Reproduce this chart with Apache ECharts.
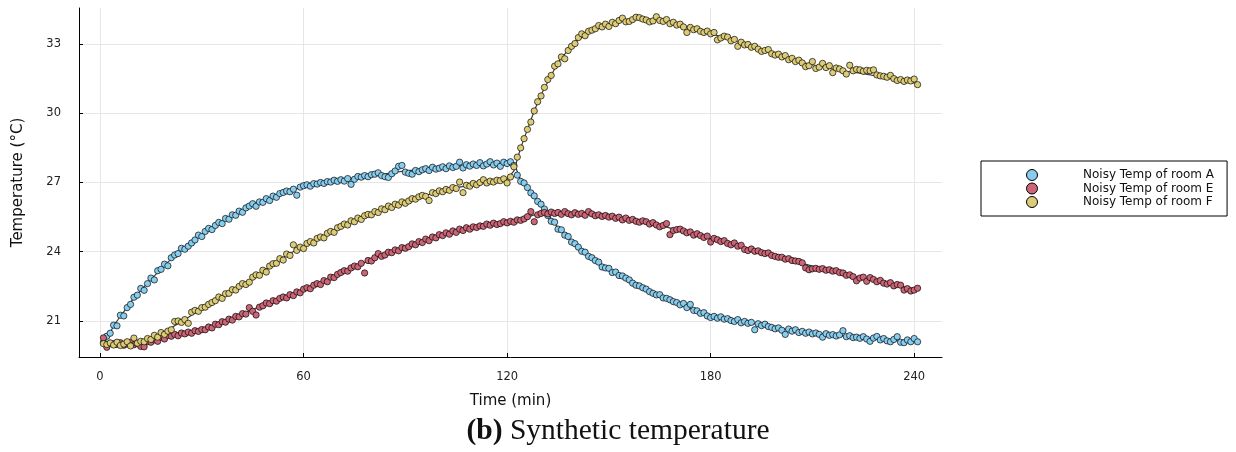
<!DOCTYPE html>
<html>
<head>
<meta charset="utf-8">
<script src="https://cdn.jsdelivr.net/npm/echarts@6/dist/echarts.min.js"></script>
<style>
  html, body { margin: 0; padding: 0; background: #fff; }
  #chart { width: 1236px; height: 452px; }
</style>
</head>
<body>
<div id="chart"></div>
<script>
// sampled once per minute, t = 1 .. 241
const minutes = [];
for (let t = 1; t <= 241; t++) minutes.push(t);

const tempA = [
  20.08, 20.34, 20.47, 20.82, 20.79, 21.25, 21.22, 21.58, 21.72, 22.03,
  22.12, 22.41, 22.33, 22.62, 22.86, 22.78, 23.18, 23.24, 23.46, 23.39,
  23.74, 23.86, 23.92, 24.15, 24.11, 24.24, 24.38, 24.51, 24.72, 24.66,
  24.88, 25.01, 24.96, 25.14, 25.27, 25.22, 25.44, 25.41, 25.6, 25.58,
  25.76, 25.71, 25.9, 25.98, 26.08, 25.97, 26.16, 26.14, 26.3, 26.22,
  26.41, 26.36, 26.52, 26.57, 26.63, 26.6, 26.71, 26.45, 26.8, 26.86,
  26.9, 26.84, 26.95, 26.93, 27.0, 26.96, 27.04, 27.02, 27.1, 27.05,
  27.12, 27.06, 27.17, 26.92, 27.14, 27.26, 27.23, 27.3, 27.25, 27.34,
  27.36, 27.42, 27.3, 27.25, 27.22, 27.38, 27.5, 27.7, 27.74, 27.45,
  27.4, 27.36, 27.52, 27.47, 27.55, 27.6, 27.52, 27.66, 27.58, 27.62,
  27.68, 27.6, 27.72, 27.65, 27.7, 27.88, 27.63, 27.77, 27.71, 27.8,
  27.74, 27.86, 27.72, 27.8, 27.9, 27.76, 27.84, 27.7, 27.88, 27.82,
  27.9, 27.74, 27.32, 27.05, 26.98, 26.78, 26.55, 26.42, 26.18, 26.06,
  25.85, 25.57, 25.32, 25.28, 24.98, 24.95, 24.72, 24.66, 24.42, 24.35,
  24.2, 24.02, 23.98, 23.8, 23.74, 23.62, 23.55, 23.34, 23.3, 23.28,
  23.1, 23.12, 22.97, 22.95, 22.86, 22.78, 22.64, 22.55, 22.52, 22.44,
  22.38, 22.27, 22.2, 22.13, 22.14, 22.0, 21.98, 21.92, 21.84, 21.8,
  21.7, 21.76, 21.58, 21.72, 21.46, 21.44, 21.33, 21.36, 21.22, 21.15,
  21.2, 21.12, 21.18, 21.08, 21.1, 21.02, 20.98, 21.06, 20.92, 20.98,
  20.9, 20.94, 20.62, 20.88, 20.8, 20.86, 20.76, 20.72, 20.66, 20.7,
  20.6, 20.42, 20.65, 20.56, 20.62, 20.5, 20.55, 20.47, 20.52, 20.44,
  20.48, 20.42, 20.3, 20.45, 20.38, 20.41, 20.35, 20.4, 20.58, 20.32,
  20.36, 20.28, 20.3, 20.25, 20.32, 20.22, 20.12, 20.26, 20.33, 20.18,
  20.24, 20.14, 20.1, 20.2, 20.32, 20.08, 20.06, 20.18, 20.1, 20.24, 20.1
];

const tempE = [
  20.27, 19.86, 20.04, 20.02, 19.98, 20.06, 19.95, 20.0, 20.08, 19.97,
  20.02, 19.9, 19.88, 20.1, 20.08, 20.18, 20.12, 20.3, 20.22, 20.38,
  20.34, 20.42, 20.36, 20.48, 20.44, 20.52, 20.47, 20.58, 20.55, 20.63,
  20.62, 20.74, 20.7, 20.86, 20.84, 20.97, 20.95, 21.08, 21.04, 21.2,
  21.18, 21.32, 21.3, 21.58, 21.42, 21.26, 21.6, 21.66, 21.78, 21.75,
  21.88, 21.86, 21.98, 22.04, 22.0, 22.14, 22.1, 22.26, 22.22, 22.38,
  22.44, 22.4, 22.55, 22.62, 22.58, 22.75, 22.7, 22.9, 22.88, 23.02,
  23.1, 23.18, 23.16, 23.3, 23.38, 23.35, 23.5, 23.08, 23.62, 23.6,
  23.74, 23.92, 23.8, 23.86, 23.98, 23.96, 24.08, 24.04, 24.18, 24.15,
  24.22, 24.34, 24.3, 24.44, 24.4, 24.55, 24.48, 24.64, 24.6, 24.74,
  24.7, 24.82, 24.76, 24.9, 24.84, 24.98, 24.92, 25.04, 24.98, 25.08,
  25.05, 25.12, 25.1, 25.2, 25.15, 25.24, 25.18, 25.22, 25.3, 25.25,
  25.32, 25.28, 25.38, 25.36, 25.42, 25.52, 25.74, 25.3, 25.6, 25.66,
  25.7, 25.64, 25.72, 25.66, 25.7, 25.62, 25.74, 25.65, 25.6, 25.69,
  25.62, 25.66, 25.58, 25.74, 25.64, 25.56, 25.6, 25.53, 25.57, 25.5,
  25.54, 25.45, 25.5, 25.38, 25.46, 25.36, 25.4, 25.32, 25.28, 25.34,
  25.3, 25.2, 25.26, 25.16, 25.08, 25.14, 25.22, 24.74, 24.92, 24.96,
  24.98, 24.9, 24.82, 24.86, 24.72, 24.78, 24.7, 24.62, 24.68, 24.42,
  24.58, 24.52, 24.44, 24.48, 24.36, 24.3, 24.38, 24.24, 24.28, 24.1,
  24.05, 24.12, 24.02, 24.04, 23.96, 23.92, 23.95, 23.84, 23.8, 23.76,
  23.76, 23.68, 23.7, 23.62, 23.6, 23.58, 23.52, 23.3, 23.22, 23.26,
  23.28, 23.24, 23.27, 23.2, 23.22, 23.16, 23.18, 23.1, 23.08, 22.98,
  23.0, 22.92, 22.74, 22.86, 22.9, 22.72, 22.88, 22.8, 22.7, 22.76,
  22.64, 22.6, 22.66, 22.52, 22.58, 22.55, 22.34, 22.4, 22.3, 22.34, 22.42
];

const tempF = [
  20.02, 19.98, 20.05, 19.96, 20.08, 19.94, 20.0, 20.1, 19.92, 20.26,
  20.04, 20.12, 20.1, 20.24, 20.2, 20.38, 20.3, 20.5, 20.42, 20.56,
  20.62, 20.98, 21.0, 20.94, 21.06, 20.9, 21.38, 21.46, 21.42, 21.58,
  21.6, 21.72, 21.8, 21.88, 22.04, 21.98, 22.18, 22.2, 22.36, 22.34,
  22.5, 22.62, 22.58, 22.68, 22.9, 23.0, 22.98, 23.2, 23.12, 23.38,
  23.48, 23.5, 23.7, 23.64, 23.9, 23.84, 24.3, 24.06, 24.2, 24.14,
  24.36, 24.44, 24.38, 24.58, 24.64, 24.6, 24.8, 24.88, 24.84, 25.04,
  25.1, 25.2, 25.16, 25.34, 25.3, 25.46, 25.4, 25.56, 25.62, 25.6,
  25.74, 25.7, 25.86, 25.82, 25.98, 25.92, 26.06, 26.02, 26.16, 26.1,
  26.2, 26.3, 26.28, 26.38, 26.44, 26.4, 26.22, 26.56, 26.52, 26.64,
  26.6, 26.7, 26.66, 26.78, 26.74, 27.02, 26.56, 26.88, 26.84, 26.96,
  26.9, 27.0, 27.12, 26.98, 27.06, 27.02, 27.1, 27.08, 27.16, 26.98,
  27.24, 27.68, 28.1, 28.5, 28.9, 29.3, 29.62, 30.1, 30.5, 30.75,
  31.12, 31.46, 31.64, 32.04, 32.14, 32.44, 32.36, 32.72, 32.9, 33.02,
  33.28, 33.44, 33.36, 33.55, 33.6, 33.66, 33.8, 33.74, 33.86, 33.76,
  33.94, 33.88, 34.02, 34.12, 33.96, 33.98, 34.06, 34.16, 34.14, 34.08,
  34.04, 33.96, 34.0, 34.18, 34.02, 33.98, 34.06, 33.88, 33.94, 33.82,
  33.86, 33.74, 33.5, 33.72, 33.62, 33.66, 33.55, 33.5, 33.56, 33.44,
  33.5, 33.18, 33.26, 33.34, 33.3, 33.14, 33.2, 32.9, 33.08, 32.96,
  32.98, 32.86, 32.9, 32.78, 32.68, 32.72, 32.76, 32.58, 32.52, 32.56,
  32.44, 32.5, 32.32, 32.38, 32.24, 32.3, 32.18, 32.02, 32.06, 32.24,
  31.94, 32.0, 32.16, 31.98, 32.06, 31.76, 31.96, 31.92, 31.84, 31.7,
  32.08, 31.84, 31.9, 31.88, 31.82, 31.86, 31.84, 31.88, 31.66, 31.62,
  31.6, 31.56, 31.64, 31.5, 31.42, 31.46, 31.38, 31.44, 31.4, 31.48, 31.24
];

// underlying (noise-free) temperature, read at coarser steps
const trueTimes = [1, 5, 10, 15, 20, 25, 30, 35, 40, 45, 50, 55, 60, 65, 70, 75, 80, 85, 90, 95, 100, 105, 110, 115, 120,
  122, 124, 126, 128, 130, 135, 140, 145, 150, 155, 160, 165, 170, 175, 180, 185, 190, 195, 200, 205, 210, 215, 220, 225, 230, 235, 241];
const trueA = [20.05, 21.0, 22.0, 22.8, 23.55, 24.2, 24.75, 25.2, 25.65, 26.0, 26.32, 26.6, 26.82, 26.97, 27.08, 27.2, 27.3, 27.4, 27.5, 27.57, 27.63, 27.7, 27.76, 27.8, 27.84,
  27.85, 27.1, 26.75, 26.4, 26.0, 25.05, 24.3, 23.7, 23.25, 22.82, 22.42, 22.08, 21.78, 21.48, 21.2, 21.07, 20.95, 20.83, 20.68, 20.57, 20.48, 20.4, 20.33, 20.27, 20.2, 20.15, 20.1];
const trueE = [20.1, 20.0, 19.97, 20.05, 20.32, 20.45, 20.6, 20.87, 21.15, 21.5, 21.8, 22.05, 22.35, 22.65, 23.0, 23.35, 23.65, 23.95, 24.2, 24.45, 24.7, 24.9, 25.05, 25.18, 25.28,
  25.33, 25.4, 25.5, 25.6, 25.65, 25.68, 25.66, 25.6, 25.52, 25.42, 25.3, 25.15, 24.95, 24.76, 24.58, 24.38, 24.18, 23.98, 23.78, 23.58, 23.38, 23.2, 23.02, 22.85, 22.7, 22.53, 22.38];
const trueF = [20.0, 20.0, 20.05, 20.26, 20.62, 21.05, 21.55, 22.0, 22.4, 22.85, 23.35, 23.85, 24.25, 24.6, 25.0, 25.35, 25.65, 25.93, 26.17, 26.4, 26.6, 26.77, 26.92, 27.04, 27.14,
  27.5, 28.5, 29.3, 30.1, 30.8, 32.2, 33.1, 33.54, 33.85, 34.03, 34.1, 34.04, 33.85, 33.65, 33.45, 33.24, 32.99, 32.74, 32.5, 32.28, 32.1, 31.94, 31.82, 31.72, 31.58, 31.45, 31.28];

const xTicks = [0, 60, 120, 180, 240];
const yTicks = [21, 24, 27, 30, 33];
const seriesNames = ['Noisy Temp of room A', 'Noisy Temp of room E', 'Noisy Temp of room F'];
const colors = ['#88CCEE', '#CC6677', '#DDCC77'];

const chart = echarts.init(document.getElementById('chart'), null, { renderer: 'canvas' });

const pair = (xs, ys) => ys.map((v, i) => [xs[i], v]);

const trueLine = (ys) => ({
  type: 'line',
  data: pair(trueTimes, ys),
  showSymbol: false,
  silent: true,
  z: 1,
  lineStyle: { color: '#3a3a3a', width: 1.2 },
  emphasis: { disabled: true }
});

const noisy = (name, ys, color) => ({
  name,
  type: 'scatter',
  data: pair(minutes, ys),
  symbol: 'circle',
  symbolSize: 6.3,
  z: 2,
  itemStyle: { color, borderColor: 'rgba(0,0,0,0.85)', borderWidth: 0.8, opacity: 1 }
});

const axisFont = { fontFamily: 'DejaVu Sans', fontSize: 11.5, color: '#222' };

chart.setOption({
  animation: false,
  color: colors,
  grid: { left: 79, right: 294, top: 8, bottom: 95, containLabel: false },
  xAxis: {
    type: 'value',
    min: -6.2,
    max: 248.2,
    name: 'Time (min)',
    nameLocation: 'middle',
    nameGap: 37,
    nameTextStyle: { fontFamily: 'DejaVu Sans', fontSize: 15, color: '#111' },
    axisLine: { show: true, onZero: false, lineStyle: { color: '#000', width: 1 } },
    axisTick: { show: true, inside: true, length: 4, customValues: xTicks, lineStyle: { color: '#000' } },
    axisLabel: { ...axisFont, margin: 14, customValues: xTicks },
    splitLine: { show: true, lineStyle: { color: '#e6e6e6', width: 1 } }
  },
  yAxis: {
    type: 'value',
    min: 19.44,
    max: 34.56,
    name: 'Temperature (°C)',
    nameLocation: 'middle',
    nameGap: 53,
    nameTextStyle: { fontFamily: 'DejaVu Sans', fontSize: 15, color: '#111' },
    axisLine: { show: true, onZero: false, lineStyle: { color: '#000', width: 1 } },
    axisTick: { show: true, inside: true, length: 4, customValues: yTicks, lineStyle: { color: '#000' } },
    axisLabel: { ...axisFont, margin: 18, customValues: yTicks },
    splitLine: { show: true, lineStyle: { color: '#e6e6e6', width: 1 } }
  },
  legend: {
    data: seriesNames,
    orient: 'vertical',
    left: 981,
    top: 161,
    padding: [8, 13, 8, 45],
    itemGap: 1.5,
    itemWidth: 92,
    itemHeight: 11,
    icon: 'circle',
    borderColor: '#000',
    borderWidth: 1,
    backgroundColor: '#fff',
    borderRadius: 0,
    textStyle: { fontFamily: 'DejaVu Sans', fontSize: 12, color: '#111' },
    itemStyle: { borderColor: '#000', borderWidth: 1 }
  },
  series: [
    trueLine(trueA),
    trueLine(trueE),
    trueLine(trueF),
    noisy(seriesNames[0], tempA, colors[0]),
    noisy(seriesNames[1], tempE, colors[1]),
    noisy(seriesNames[2], tempF, colors[2])
  ],
  graphic: [{
    type: 'text',
    left: 'center',
    top: 416,
    style: {
      text: '{b|(b)} Synthetic temperature',
      font: '29.5px "Liberation Serif"',
      fill: '#111',
      rich: {
        b: { font: 'bold 29.5px "Liberation Serif"', fill: '#111' }
      }
    }
  }]
});

window.addEventListener('resize', () => chart.resize());
</script>
</body>
</html>
